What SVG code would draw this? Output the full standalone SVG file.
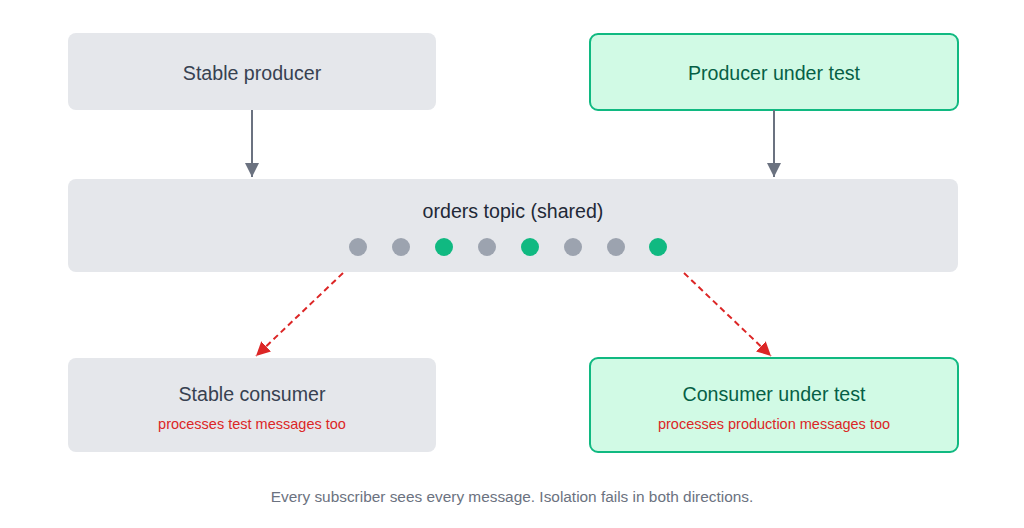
<svg xmlns="http://www.w3.org/2000/svg" width="1024" height="528" viewBox="0 0 1024 528">
<style>
.box{fill:#e5e7eb;}
.test{fill:#d1fae5;stroke:#10b981;stroke-width:2;}
.t{font-family:"Liberation Sans",Arial,sans-serif;font-size:19.6px;text-anchor:middle;dominant-baseline:central;fill:#374151;}
.tg{fill:#065f46;}
.sub{font-family:"Liberation Sans",Arial,sans-serif;font-size:14.5px;text-anchor:middle;dominant-baseline:central;fill:#dc2626;}
.cap{font-family:"Liberation Sans",Arial,sans-serif;font-size:15.4px;text-anchor:middle;dominant-baseline:central;fill:#6b7280;}
.g{fill:#9ca3af;}
.gr{fill:#10b981;}
.a{stroke:#6b7280;stroke-width:2;fill:none;}
.r{stroke:#dc2626;stroke-width:2;stroke-dasharray:6 4;fill:none;}
</style>
<defs>
<marker id="ag" viewBox="0 0 10 10" refX="10" refY="5" markerWidth="14" markerHeight="14" orient="auto" markerUnits="userSpaceOnUse"><path d="M0,0 L10,5 L0,10 z" fill="#6b7280"/></marker>
<marker id="ar" viewBox="0 0 10 10" refX="10" refY="5" markerWidth="14" markerHeight="14" orient="auto" markerUnits="userSpaceOnUse"><path d="M0,0 L10,5 L0,10 z" fill="#dc2626"/></marker>
</defs>
<rect width="1024" height="528" fill="#ffffff"/>
<g id="stable-producer">
<rect class="box" x="68" y="33" width="368" height="77" rx="8"/>
<text class="t" x="252" y="73">Stable producer</text>
</g>
<g id="producer-under-test">
<rect class="test" x="590" y="34" width="368" height="76" rx="8"/>
<text class="t tg" x="774" y="73">Producer under test</text>
</g>
<g id="orders-topic">
<rect class="box" x="68" y="179" width="890" height="93" rx="8"/>
<text class="t" x="513" y="211" style="fill:#1f2937">orders topic (shared)</text>
<circle class="g" cx="358" cy="247" r="9"/>
<circle class="g" cx="401" cy="247" r="9"/>
<circle class="gr" cx="444" cy="247" r="9"/>
<circle class="g" cx="487" cy="247" r="9"/>
<circle class="gr" cx="530" cy="247" r="9"/>
<circle class="g" cx="573" cy="247" r="9"/>
<circle class="g" cx="616" cy="247" r="9"/>
<circle class="gr" cx="658" cy="247" r="9"/>
</g>
<g id="stable-consumer">
<rect class="box" x="68" y="358" width="368" height="94" rx="8"/>
<text class="t" x="252" y="394">Stable consumer</text>
<text class="sub" x="252" y="424">processes test messages too</text>
</g>
<g id="consumer-under-test">
<rect class="test" x="590" y="358" width="368" height="94" rx="8"/>
<text class="t tg" x="774" y="394">Consumer under test</text>
<text class="sub" x="774" y="424">processes production messages too</text>
</g>
<g id="connectors">
<line class="a" x1="252" y1="110" x2="252" y2="177" marker-end="url(#ag)"/>
<line class="a" x1="774" y1="110" x2="774" y2="177" marker-end="url(#ag)"/>
<line class="r" x1="343" y1="273" x2="256" y2="356" marker-end="url(#ar)"/>
<line class="r" x1="684" y1="273" x2="771" y2="356" marker-end="url(#ar)"/>
</g>
<text class="cap" x="512" y="496">Every subscriber sees every message. Isolation fails in both directions.</text>
</svg>
